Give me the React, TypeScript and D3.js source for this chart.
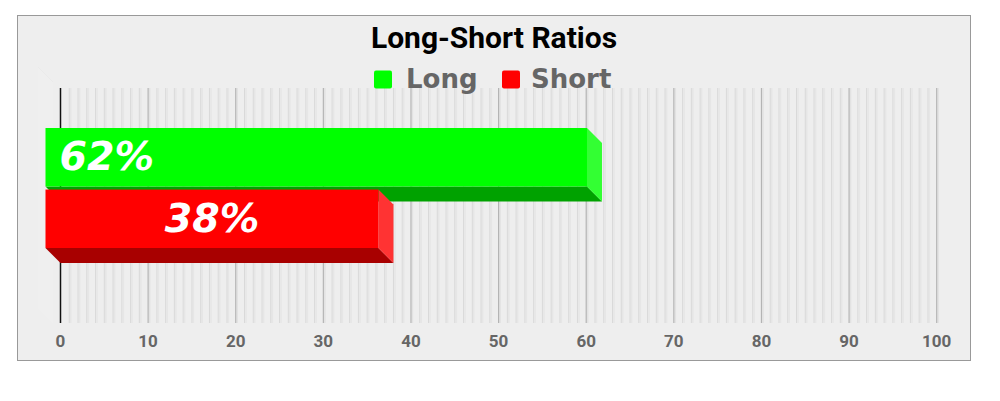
import React from "react";
import * as d3 from "d3";

const title = "Long-Short Ratios";
const seriesNames = ["Long", "Short"];
const seriesValues = [61.8, 38];
const seriesLabels = ["62%", "38%"];
const tickValues = [0, 10, 20, 30, 40, 50, 60, 70, 80, 90, 100];

const W = 1000;
const H = 401;
const frame = { x: 17.5, y: 15.5, w: 953, h: 345 };
const plot = { left: 60.5, right: 936.7, top: 88, bottom: 323 };
const depth = 15;

const faceColors: Record<string, { front: string; side: string; bottom: string }> = {
  Long: { front: "#00ff00", side: "#33ff33", bottom: "#00a200" },
  Short: { front: "#ff0000", side: "#ff3333", bottom: "#a80000" },
};

export default function App() {
  const x = d3.scaleLinear().domain([0, 100]).range([plot.left, plot.right]);
  const y = d3.scaleBand<string>().domain(seriesNames).range([143, 263]).paddingInner(0.05);
  const bw = y.bandwidth();
  const minorTicks = d3.range(0, 101, 1).filter((t) => t % 10 !== 0);

  const legendItems = [
    { name: "Long", sq: 374, tx: 406 },
    { name: "Short", sq: 502, tx: 531 },
  ];

  return (
    <svg
      width={W}
      height={H}
      style={{ position: "absolute", left: 0, top: 0 }}
      xmlns="http://www.w3.org/2000/svg"
    >
      <rect x={0} y={0} width={W} height={H} fill="#ffffff" />
      <rect x={frame.x} y={frame.y} width={frame.w} height={frame.h} fill="#eeeeee" stroke="#999999" strokeWidth={1} />

      {/* faint 3D wall */}
      <polygon
        points={`${38},${67} ${53},${82} ${53},${323} ${38},${308}`}
        fill="#efefef"
      />
      <line x1={38} y1={67} x2={53} y2={82} stroke="#e9e9e9" strokeWidth={0.8} />

      {/* minor gridlines */}
      {minorTicks.map((t) => (
        <g key={"m" + t}>
          <line x1={x(t) + 1.5} x2={x(t) + 1.5} y1={plot.top} y2={plot.bottom} stroke="#e6e6e6" strokeWidth={1.5} />
          <line x1={x(t)} x2={x(t)} y1={plot.top} y2={plot.bottom} stroke="#d9d9d9" strokeWidth={1} />
        </g>
      ))}
      {/* major gridlines */}
      {tickValues.filter((t) => t !== 0).map((t) => (
        <g key={"M" + t}>
          <line x1={x(t) + 1.5} x2={x(t) + 1.5} y1={plot.top} y2={plot.bottom} stroke="#e2e2e2" strokeWidth={1.5} />
          <line x1={x(t)} x2={x(t)} y1={plot.top} y2={plot.bottom} stroke="#b4b4b4" strokeWidth={1.2} />
        </g>
      ))}
      <line x1={x(0)} x2={x(0)} y1={plot.top} y2={plot.bottom} stroke="#111111" strokeWidth={1.5} />

      {/* bars */}
      {seriesNames.map((name, i) => {
        const v = seriesValues[i];
        const x0 = x(0);
        const x1 = x(v);
        const y0 = y(name) as number;
        const y1 = y0 + bw;
        const c = faceColors[name];
        const fx0 = x0 - depth;
        const fx1 = x1 - depth;
        const fy0 = y0 - depth;
        const fy1 = y1 - depth;
        return (
          <g key={name}>
            <polygon points={`${fx0},${fy1} ${fx1},${fy1} ${x1},${y1} ${x0},${y1}`} fill={c.bottom} />
            <polygon points={`${fx1},${fy0} ${x1},${y0} ${x1},${y1} ${fx1},${fy1}`} fill={c.side} />
            <rect x={fx0} y={fy0} width={fx1 - fx0} height={fy1 - fy0} fill={c.front} />
          </g>
        );
      })}

      {/* bar labels */}
      {seriesNames.map((name, i) => {
        const v = seriesValues[i];
        const y0 = (y(name) as number) - depth;
        const cy = y0 + bw / 2;
        const fx0 = x(0) - depth;
        const fx1 = x(v) - depth;
        const isFirst = i === 0;
        return (
          <text
            key={"l" + name}
            x={isFirst ? fx0 + 14 : (fx0 + fx1) / 2}
            y={cy + 13}
            textAnchor={isFirst ? "start" : "middle"}
            fontFamily="DejaVu Sans"
            fontWeight="bold"
            fontStyle="italic"
            fontSize={39.5}
            fill="#ffffff"
          >
            {seriesLabels[i]}
          </text>
        );
      })}

      {/* x tick labels */}
      {tickValues.map((t) => (
        <text
          key={"t" + t}
          x={x(t)}
          y={347}
          textAnchor="middle"
          fontFamily="Roboto"
          fontWeight="bold"
          fontSize={17}
          fill="#666666"
        >
          {t}
        </text>
      ))}

      {/* title */}
      <text x={494} y={48} textAnchor="middle" fontFamily="Roboto" fontWeight="bold" fontSize={30} fill="#000000">
        {title}
      </text>

      {/* legend */}
      {legendItems.map((it) => (
        <g key={"lg" + it.name}>
          <rect x={it.sq} y={70.5} width={18} height={18} rx={2} fill={faceColors[it.name].front} />
          <text x={it.tx} y={87.5} fontFamily="DejaVu Sans" fontWeight="bold" fontSize={26} fill="#666666">
            {it.name}
          </text>
        </g>
      ))}
    </svg>
  );
}
